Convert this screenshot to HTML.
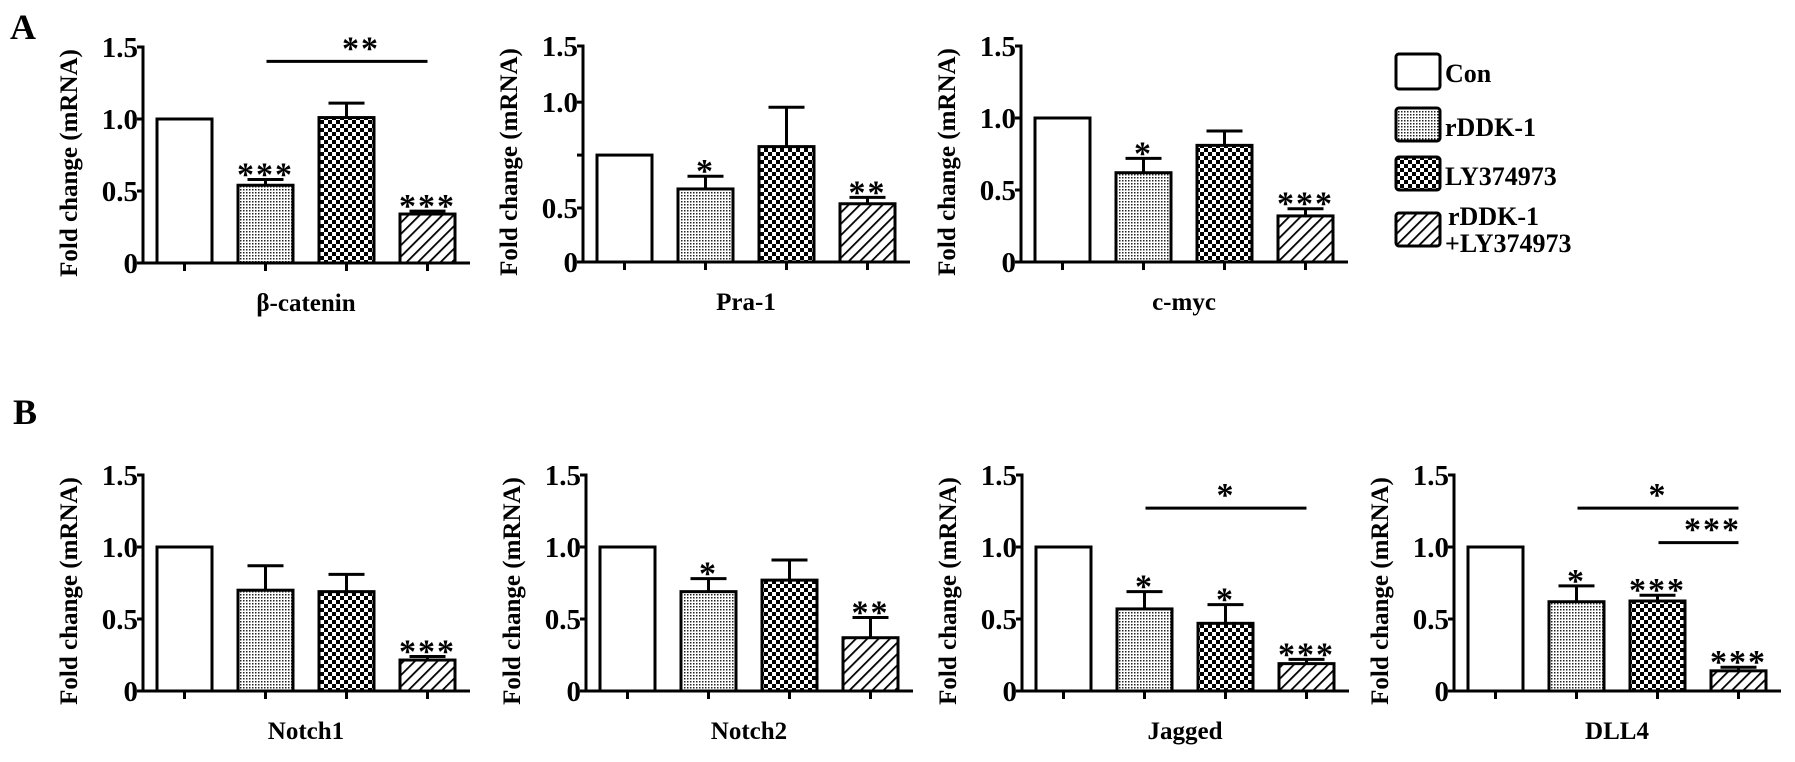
<!DOCTYPE html>
<html><head><meta charset="utf-8"><style>
html,body{margin:0;padding:0;background:#fff;}
svg{display:block;font-family:"Liberation Serif",serif;font-weight:bold;}
</style></head><body>
<svg id="fig" width="1795" height="762" viewBox="0 0 1795 762" xmlns="http://www.w3.org/2000/svg">
<defs>
<pattern id="dots" width="3" height="3" patternUnits="userSpaceOnUse"><rect width="3" height="3" fill="#fff"/><rect width="1.5" height="1.5" fill="#222"/></pattern>
<pattern id="check" width="8" height="8" patternUnits="userSpaceOnUse"><rect width="8" height="8" fill="#fff"/><rect width="4" height="4" fill="#000"/><rect x="4" y="4" width="4" height="4" fill="#000"/></pattern>
<pattern id="hatch" width="8" height="8" patternUnits="userSpaceOnUse" patternTransform="rotate(45)"><rect width="8" height="8" fill="#fff"/><rect width="1.8" height="8" fill="#000"/></pattern>
</defs>
<text x="10" y="39" font-size="36">A</text>
<text x="13" y="424" font-size="36">B</text>
<g id="legend"></g>
</svg>
<script>
const groups = ['Con', 'rDDK-1', 'LY374973', 'rDDK-1+LY374973'];
const genes = ['β-catenin', 'Pra-1', 'c-myc', 'Notch1', 'Notch2', 'Jagged', 'DLL4'];
const meansBcat = [1.0, 0.54, 1.01, 0.34];
const errTopBcat = [null, 0.58, 1.11, 0.36];
const sigBcat = ['', '***', '', '***'];
const meansPra = [0.75, 0.59, 0.79, 0.52];
const errTopPra = [null, 0.65, 0.976, 0.55];
const sigPra = ['', '*', '', '**'];
const meansMyc = [1.0, 0.62, 0.81, 0.32];
const errTopMyc = [null, 0.72, 0.91, 0.37];
const sigMyc = ['', '*', '', '***'];
const meansN1 = [1.0, 0.70, 0.69, 0.215];
const errTopN1 = [null, 0.87, 0.81, 0.24];
const sigN1 = ['', '', '', '***'];
const meansN2 = [1.0, 0.69, 0.77, 0.37];
const errTopN2 = [null, 0.78, 0.91, 0.51];
const sigN2 = ['', '*', '', '**'];
const meansJag = [1.0, 0.57, 0.47, 0.19];
const errTopJag = [null, 0.69, 0.60, 0.22];
const sigJag = ['', '*', '*', '***'];
const meansDll = [1.0, 0.62, 0.625, 0.14];
const errTopDll = [null, 0.73, 0.665, 0.165];
const sigDll = ['', '*', '***', '***'];
const tickVals = [0, 0.5, 1.0, 1.5];
const tickLabels = ['0', '0.5', '1.0', '1.5'];
// comparison brackets: [fromGroup, toGroup, value level, label]
const bracketsBcat = [[1, 3, 1.40, '**']];
const bracketsJag = [[1, 3, 1.27, '*']];
const bracketsDll = [[1, 3, 1.27, '*'], [2, 3, 1.03, '***']];

const NS = 'http://www.w3.org/2000/svg';
const svg = document.getElementById('fig');
const fills = ['#fff', 'url(#dots)', 'url(#check)', 'url(#hatch)'];
function el(tag, attrs, parent) {
  const e = document.createElementNS(NS, tag);
  for (const k in attrs) e.setAttribute(k, attrs[k]);
  (parent || svg).appendChild(e);
  return e;
}
function linearY(y0, h) { return v => y0 - v / 1.5 * h; }
// Pra-1 panel has an irregular (broken) axis in the original figure
function praY(y0, h) {
  const fr = [0, 0.25, 0.74, 1.0];
  return v => {
    for (let i = 0; i < 3; i++) {
      if (v <= tickVals[i + 1] || i === 2) {
        const t = (v - tickVals[i]) / (tickVals[i + 1] - tickVals[i]);
        return y0 - (fr[i] + t * (fr[i + 1] - fr[i])) * h;
      }
    }
  };
}
function drawChart(ax, y0, gene, means, errs, sigs, brackets, yFn, extraTick) {
  const g = el('g', {});
  
  
  const h = 216, y = yFn(y0, h);
  const xBar = i => ax + 14 + i * 81;
  const bw = 55;
  means.forEach((m, i) => {
    const x = xBar(i);
    if (errs[i] != null) {
      const e1 = el('line', {x1: x + bw / 2, x2: x + bw / 2, y1: y(m), y2: y(errs[i]), stroke: '#000', 'stroke-width': 3}, g);
      
      
      el('line', {x1: x + bw / 2 - 18, x2: x + bw / 2 + 18, y1: y(errs[i]), y2: y(errs[i]), stroke: '#000', 'stroke-width': 3}, g);
    }
    const r = el('rect', {x: x, y: y(m), width: bw, height: y(0) - y(m), fill: fills[i], stroke: '#000', 'stroke-width': 3}, g);
    
    
    if (sigs[i]) {
      const top = errs[i] != null ? errs[i] : m;
      const t = el('text', {x: x + bw / 2, y: y(top) + 6, 'font-size': 34, 'text-anchor': 'middle', 'letter-spacing': 2}, g);
      t.textContent = sigs[i];
      
      
    }
    el('line', {x1: x + bw / 2, x2: x + bw / 2, y1: y0, y2: y0 + 8, stroke: '#000', 'stroke-width': 3}, g);
  });
  (brackets || []).forEach(b => {
    const x1 = xBar(b[0]) + bw / 2 + 1, x2 = xBar(b[1]) + bw / 2, yy = y(b[2]);
    const l = el('line', {x1: x1, x2: x2, y1: yy, y2: yy, stroke: '#000', 'stroke-width': 3}, g);
    
    
    const t = el('text', {x: (x1 + x2) / 2 + (b[3].length > 1 ? 14 : 0), y: yy - 2, 'font-size': 34, 'text-anchor': 'middle', 'letter-spacing': 2}, g);
    t.textContent = b[3];
  });
  const ya = el('line', {x1: ax, x2: ax, y1: y(1.5) - 1.5, y2: y0 + 1.5, stroke: '#000', 'stroke-width': 3}, g);
  
  
  const xa = el('line', {x1: ax - 5, x2: ax + 327, y1: y0, y2: y0, stroke: '#000', 'stroke-width': 3}, g);
  
  
  const ticks = extraTick ? tickVals.concat([extraTick]) : tickVals;
  ticks.forEach(v => el('line', {x1: ax - 6, x2: ax, y1: y(v), y2: y(v), stroke: '#000', 'stroke-width': 3}, g));
  tickVals.forEach((v, i) => {
    const t = el('text', {x: ax - 5, y: y(v) + 10, 'font-size': 29, 'text-anchor': 'end'}, g);
    t.textContent = tickLabels[i];
    
    
  });
  const yt = el('text', {x: 0, y: 0, 'font-size': 25, 'text-anchor': 'middle', transform: `translate(${ax - 66},${y0 - 100}) rotate(-90)`}, g);
  yt.textContent = 'Fold change (mRNA)';
  
  
  const xt = el('text', {x: ax + 14 + 1.5 * 81 + bw / 2, y: y0 + 48, 'font-size': 25, 'text-anchor': 'middle'}, g);
  xt.textContent = gene;
  
  
}
drawChart(143, 263, genes[0], meansBcat, errTopBcat, sigBcat, bracketsBcat, linearY);
drawChart(583, 262, genes[1], meansPra, errTopPra, sigPra, null, praY, 0.75);
drawChart(1021, 262, genes[2], meansMyc, errTopMyc, sigMyc, null, linearY);
drawChart(143, 691, genes[3], meansN1, errTopN1, sigN1, null, linearY);
drawChart(586, 691, genes[4], meansN2, errTopN2, sigN2, null, linearY);
drawChart(1022, 691, genes[5], meansJag, errTopJag, sigJag, bracketsJag, linearY);
drawChart(1454, 691, genes[6], meansDll, errTopDll, sigDll, bracketsDll, linearY);

const lg = document.getElementById('legend');
const legY = [54, 108, 157, 213];
groups.forEach((name, i) => {
  const r = el('rect', {x: 1396, y: legY[i], width: 44, height: i === 0 ? 35 : 33, rx: 3, fill: fills[i], stroke: '#000', 'stroke-width': 3}, lg);
  
  
  if (i < 3) {
    const t = el('text', {x: 1445, y: legY[i] + 28, 'font-size': 26}, lg);
    t.textContent = name;
    
    
  } else {
    const t = el('text', {x: 1448, y: legY[i] + 12, 'font-size': 26}, lg);
    t.textContent = 'rDDK-1';
    
    
    const t2 = el('text', {x: 1445, y: legY[i] + 39, 'font-size': 26}, lg);
    t2.textContent = '+LY374973';
  }
});
</script>
</body></html>
